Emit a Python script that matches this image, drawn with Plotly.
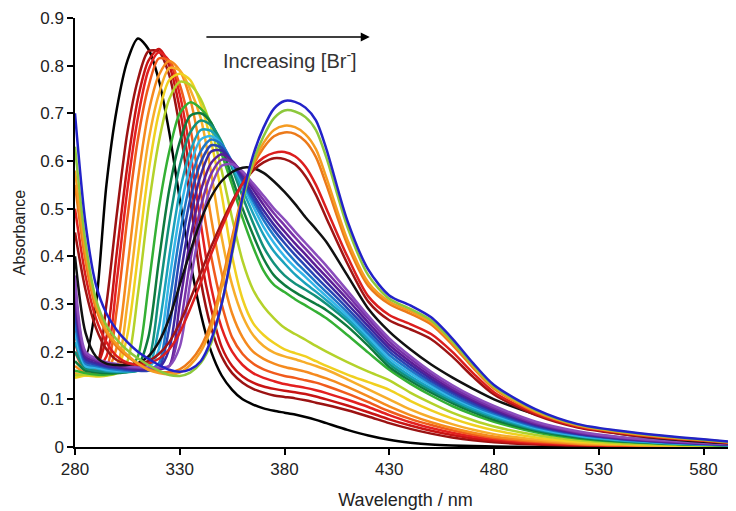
import plotly.graph_objects as go

wavelength = [280, 285, 290, 295, 300, 305, 310, 315, 320, 325, 330, 335, 340, 345, 350, 355, 360, 365, 370, 375,
              380, 385, 390, 395, 400, 410, 420, 430, 440, 450, 460, 470, 480, 500, 520, 540, 560, 580, 595]

s01_black = [0.30, 0.19, 0.30, 0.55, 0.71, 0.81, 0.857, 0.835, 0.77, 0.66, 0.52, 0.39, 0.28, 0.20, 0.15, 0.12, 0.10, 0.089, 0.081, 0.076,
             0.072, 0.068, 0.063, 0.057, 0.05, 0.036, 0.024, 0.015, 0.009, 0.005, 0.003, 0.002, 0.001, 0, 0, 0, 0, 0, 0]
s02_darkred = [0.26, 0.175, 0.17, 0.30, 0.49, 0.66, 0.77, 0.83, 0.83, 0.78, 0.67, 0.52, 0.35, 0.25, 0.19, 0.155, 0.135, 0.122, 0.114, 0.108,
               0.105, 0.102, 0.098, 0.093, 0.088, 0.077, 0.064, 0.05, 0.038, 0.028, 0.02, 0.014, 0.01, 0.005, 0.003, 0.002, 0.001, 0.001, 0]
s03_red = [0.24, 0.17, 0.17, 0.23, 0.41, 0.59, 0.73, 0.81, 0.835, 0.80, 0.71, 0.57, 0.40, 0.29, 0.21, 0.17, 0.148, 0.135, 0.127, 0.122,
           0.118, 0.115, 0.111, 0.106, 0.10, 0.087, 0.073, 0.058, 0.045, 0.034, 0.025, 0.018, 0.013, 0.007, 0.004, 0.003, 0.002, 0.001, 0.001]
s04_red = [0.22, 0.165, 0.165, 0.19, 0.35, 0.54, 0.69, 0.79, 0.828, 0.81, 0.74, 0.62, 0.47, 0.335, 0.25, 0.20, 0.172, 0.155, 0.145, 0.138,
           0.132, 0.128, 0.124, 0.119, 0.113, 0.099, 0.084, 0.067, 0.052, 0.04, 0.03, 0.022, 0.016, 0.009, 0.005, 0.003, 0.002, 0.001, 0.001]
s05_orangered = [0.20, 0.16, 0.16, 0.168, 0.29, 0.48, 0.645, 0.755, 0.815, 0.81, 0.76, 0.67, 0.535, 0.40, 0.30, 0.23, 0.195, 0.175, 0.163, 0.155,
                 0.149, 0.145, 0.14, 0.135, 0.128, 0.112, 0.094, 0.075, 0.059, 0.046, 0.035, 0.026, 0.019, 0.011, 0.006, 0.004, 0.002, 0.001, 0.001]
s06_orange = [0.17, 0.155, 0.155, 0.16, 0.21, 0.375, 0.56, 0.70, 0.78, 0.81, 0.79, 0.73, 0.62, 0.48, 0.365, 0.28, 0.23, 0.20, 0.185, 0.175,
              0.168, 0.163, 0.158, 0.151, 0.144, 0.126, 0.106, 0.085, 0.067, 0.052, 0.04, 0.03, 0.022, 0.013, 0.007, 0.004, 0.003, 0.002, 0.001]
s07_ltorange = [0.155, 0.15, 0.15, 0.155, 0.17, 0.30, 0.48, 0.64, 0.74, 0.795, 0.79, 0.75, 0.69, 0.575, 0.44, 0.34, 0.275, 0.235, 0.212, 0.198,
                0.19, 0.184, 0.177, 0.17, 0.162, 0.142, 0.121, 0.10, 0.079, 0.062, 0.048, 0.036, 0.027, 0.016, 0.009, 0.005, 0.003, 0.002, 0.001]
s08_yellow = [0.145, 0.15, 0.148, 0.15, 0.16, 0.235, 0.40, 0.575, 0.70, 0.77, 0.783, 0.77, 0.72, 0.64, 0.53, 0.40, 0.31, 0.26, 0.235, 0.218,
              0.205, 0.197, 0.19, 0.18, 0.17, 0.152, 0.136, 0.12, 0.097, 0.077, 0.06, 0.046, 0.035, 0.02, 0.011, 0.007, 0.004, 0.002, 0.002]
s09_yellowgreen = [0.15, 0.152, 0.15, 0.15, 0.155, 0.18, 0.32, 0.50, 0.64, 0.73, 0.766, 0.76, 0.73, 0.67, 0.58, 0.48, 0.39, 0.33, 0.295, 0.27,
                   0.25, 0.237, 0.225, 0.212, 0.20, 0.178, 0.158, 0.14, 0.114, 0.092, 0.072, 0.056, 0.043, 0.025, 0.014, 0.008, 0.005, 0.003, 0.002]
s10_green = [0.16, 0.155, 0.152, 0.152, 0.155, 0.16, 0.19, 0.335, 0.50, 0.62, 0.70, 0.723, 0.71, 0.68, 0.615, 0.55, 0.48, 0.42, 0.37, 0.34,
             0.325, 0.31, 0.297, 0.284, 0.27, 0.235, 0.198, 0.162, 0.133, 0.108, 0.086, 0.068, 0.053, 0.031, 0.018, 0.011, 0.007, 0.004, 0.003]
s11_darkgreen = [0.18, 0.16, 0.157, 0.155, 0.155, 0.158, 0.17, 0.23, 0.39, 0.54, 0.64, 0.695, 0.70, 0.68, 0.63, 0.565, 0.50, 0.445, 0.395, 0.36,
                 0.34, 0.325, 0.312, 0.30, 0.287, 0.253, 0.212, 0.168, 0.139, 0.114, 0.092, 0.073, 0.057, 0.034, 0.02, 0.012, 0.008, 0.005, 0.003]
s12_teal = [0.20, 0.165, 0.16, 0.158, 0.157, 0.157, 0.16, 0.18, 0.315, 0.47, 0.59, 0.66, 0.685, 0.675, 0.64, 0.585, 0.525, 0.47, 0.42, 0.385,
            0.36, 0.343, 0.33, 0.316, 0.30, 0.264, 0.22, 0.174, 0.144, 0.119, 0.096, 0.077, 0.061, 0.036, 0.022, 0.013, 0.008, 0.005, 0.003]
s13_cyan = [0.22, 0.17, 0.165, 0.16, 0.158, 0.158, 0.16, 0.165, 0.25, 0.40, 0.535, 0.62, 0.665, 0.663, 0.635, 0.59, 0.54, 0.49, 0.445, 0.41,
            0.385, 0.362, 0.343, 0.326, 0.308, 0.27, 0.226, 0.18, 0.149, 0.123, 0.10, 0.08, 0.064, 0.038, 0.023, 0.014, 0.009, 0.005, 0.003]
s14_lightblue = [0.24, 0.17, 0.167, 0.162, 0.16, 0.16, 0.16, 0.165, 0.205, 0.35, 0.49, 0.59, 0.645, 0.652, 0.635, 0.595, 0.55, 0.505, 0.462, 0.428,
                 0.40, 0.377, 0.357, 0.336, 0.316, 0.276, 0.232, 0.186, 0.155, 0.128, 0.104, 0.084, 0.067, 0.04, 0.024, 0.015, 0.009, 0.006, 0.004]
s15_blue = [0.26, 0.175, 0.17, 0.165, 0.162, 0.16, 0.16, 0.162, 0.175, 0.30, 0.445, 0.555, 0.62, 0.645, 0.635, 0.598, 0.556, 0.515, 0.476, 0.443,
            0.415, 0.39, 0.368, 0.346, 0.325, 0.283, 0.238, 0.193, 0.161, 0.133, 0.108, 0.087, 0.07, 0.042, 0.026, 0.016, 0.01, 0.006, 0.004]
s16_royal = [0.28, 0.18, 0.173, 0.168, 0.165, 0.162, 0.16, 0.16, 0.165, 0.25, 0.40, 0.52, 0.597, 0.633, 0.628, 0.597, 0.56, 0.522, 0.486, 0.455,
             0.428, 0.403, 0.38, 0.357, 0.335, 0.291, 0.245, 0.20, 0.167, 0.138, 0.113, 0.091, 0.073, 0.044, 0.027, 0.017, 0.011, 0.007, 0.004]
s17_indigo = [0.30, 0.185, 0.176, 0.17, 0.167, 0.164, 0.162, 0.162, 0.165, 0.206, 0.35, 0.48, 0.57, 0.62, 0.622, 0.598, 0.565, 0.53, 0.496, 0.466,
              0.44, 0.415, 0.392, 0.369, 0.346, 0.30, 0.253, 0.207, 0.173, 0.143, 0.117, 0.095, 0.076, 0.046, 0.028, 0.018, 0.011, 0.007, 0.005]
s18_purple = [0.32, 0.19, 0.18, 0.173, 0.17, 0.166, 0.164, 0.163, 0.163, 0.17, 0.30, 0.436, 0.537, 0.596, 0.614, 0.60, 0.572, 0.54, 0.508, 0.478,
              0.452, 0.427, 0.404, 0.38, 0.357, 0.31, 0.261, 0.214, 0.179, 0.148, 0.121, 0.098, 0.079, 0.048, 0.03, 0.019, 0.012, 0.008, 0.005]
s19_purple = [0.34, 0.195, 0.183, 0.176, 0.172, 0.168, 0.166, 0.165, 0.165, 0.17, 0.25, 0.39, 0.503, 0.573, 0.603, 0.597, 0.575, 0.547, 0.518, 0.49,
              0.465, 0.44, 0.416, 0.392, 0.368, 0.319, 0.269, 0.221, 0.185, 0.153, 0.125, 0.102, 0.082, 0.05, 0.031, 0.02, 0.013, 0.008, 0.005]
s20_violet = [0.36, 0.20, 0.186, 0.178, 0.174, 0.17, 0.168, 0.167, 0.167, 0.17, 0.21, 0.345, 0.467, 0.547, 0.59, 0.593, 0.578, 0.553, 0.527, 0.50,
              0.477, 0.452, 0.428, 0.404, 0.38, 0.328, 0.275, 0.228, 0.191, 0.158, 0.13, 0.106, 0.086, 0.053, 0.033, 0.021, 0.014, 0.009, 0.006]
s21_black = [0.40, 0.24, 0.19, 0.175, 0.172, 0.172, 0.176, 0.19, 0.22, 0.27, 0.34, 0.41, 0.475, 0.525, 0.558, 0.577, 0.586, 0.585, 0.575, 0.557,
             0.535, 0.51, 0.482, 0.457, 0.43, 0.36, 0.29, 0.242, 0.205, 0.173, 0.146, 0.122, 0.10, 0.068, 0.044, 0.028, 0.018, 0.011, 0.007]
s22_darkred = [0.45, 0.33, 0.25, 0.205, 0.182, 0.175, 0.175, 0.18, 0.195, 0.22, 0.26, 0.31, 0.365, 0.42, 0.47, 0.515, 0.553, 0.58, 0.597, 0.606,
               0.604, 0.593, 0.568, 0.529, 0.48, 0.385, 0.305, 0.266, 0.247, 0.226, 0.19, 0.147, 0.11, 0.067, 0.041, 0.028, 0.019, 0.013, 0.008]
s23_red = [0.50, 0.36, 0.27, 0.22, 0.19, 0.177, 0.172, 0.175, 0.185, 0.205, 0.24, 0.29, 0.345, 0.405, 0.46, 0.51, 0.553, 0.587, 0.607, 0.617,
           0.619, 0.61, 0.588, 0.55, 0.50, 0.40, 0.316, 0.277, 0.258, 0.237, 0.20, 0.155, 0.115, 0.07, 0.043, 0.03, 0.02, 0.013, 0.008]
s24_orange = [0.55, 0.39, 0.29, 0.24, 0.21, 0.19, 0.175, 0.163, 0.158, 0.157, 0.163, 0.18, 0.21, 0.262, 0.345, 0.44, 0.53, 0.59, 0.628, 0.652,
              0.66, 0.657, 0.641, 0.608, 0.55, 0.425, 0.338, 0.30, 0.28, 0.257, 0.215, 0.166, 0.122, 0.073, 0.045, 0.031, 0.021, 0.014, 0.009]
s25_orange = [0.58, 0.41, 0.30, 0.245, 0.215, 0.193, 0.175, 0.162, 0.155, 0.152, 0.156, 0.172, 0.20, 0.25, 0.335, 0.43, 0.525, 0.595, 0.638, 0.665,
              0.674, 0.671, 0.656, 0.625, 0.565, 0.435, 0.345, 0.305, 0.285, 0.262, 0.22, 0.17, 0.125, 0.075, 0.046, 0.032, 0.022, 0.015, 0.009]
s26_green = [0.63, 0.43, 0.31, 0.255, 0.225, 0.203, 0.186, 0.172, 0.16, 0.151, 0.149, 0.156, 0.176, 0.218, 0.30, 0.405, 0.515, 0.598, 0.652, 0.69,
             0.706, 0.704, 0.692, 0.665, 0.607, 0.462, 0.36, 0.311, 0.29, 0.266, 0.222, 0.172, 0.127, 0.077, 0.047, 0.033, 0.023, 0.015, 0.009]
s27_blue = [0.70, 0.47, 0.34, 0.28, 0.245, 0.22, 0.20, 0.185, 0.172, 0.162, 0.158, 0.163, 0.18, 0.225, 0.30, 0.41, 0.525, 0.612, 0.67, 0.71,
            0.726, 0.724, 0.712, 0.685, 0.625, 0.475, 0.372, 0.318, 0.297, 0.272, 0.228, 0.176, 0.13, 0.079, 0.048, 0.034, 0.024, 0.016, 0.01]

series = [s01_black, s02_darkred, s03_red, s04_red, s05_orangered, s06_orange, s07_ltorange, s08_yellow,
          s09_yellowgreen, s10_green, s11_darkgreen, s12_teal, s13_cyan, s14_lightblue, s15_blue, s16_royal,
          s17_indigo, s18_purple, s19_purple, s20_violet, s21_black, s22_darkred, s23_red, s24_orange,
          s25_orange, s26_green, s27_blue]

colors = ["#000000", "#9b1212", "#c81414", "#e32020", "#f05a1c", "#f58a1e", "#f7ad2a", "#f0d020",
          "#b4d22a", "#34b034", "#0e7a3e", "#12907a", "#1aa2bc", "#34b6e8", "#1e78c8", "#2846b4",
          "#3c28a0", "#5a1e96", "#7832a8", "#8a4cbc", "#111111", "#9e1414", "#dc1e1e", "#ec7a1a",
          "#f59c22", "#8cc83c", "#2222c8"]

x_ticks = [280, 330, 380, 430, 480, 530, 580]
y_ticks = [0, 0.1, 0.2, 0.3, 0.4, 0.5, 0.6, 0.7, 0.8, 0.9]
y_labels = ["0", "0.1", "0.2", "0.3", "0.4", "0.5", "0.6", "0.7", "0.8", "0.9"]

fig = go.Figure()
for ys, c in zip(series, colors):
    fig.add_trace(go.Scatter(x=wavelength, y=ys, mode="lines",
                             line=dict(color=c, width=2.5, shape="spline", smoothing=0.8),
                             hoverinfo="skip", showlegend=False))

font_family = "Liberation Sans, Arial, sans-serif"
fig.update_layout(
    width=728, height=503,
    margin=dict(l=67, r=0, t=10, b=64),
    paper_bgcolor="white", plot_bgcolor="white",
    font=dict(family=font_family, size=17, color="#222222"),
    xaxis=dict(range=[280, 595.5], tickvals=x_ticks, showgrid=False, zeroline=False,
               showline=True, linecolor="black", linewidth=1.5, ticks="outside",
               ticklen=6, tickwidth=1.5, tickcolor="black", tickfont=dict(size=17),
               title=dict(text="Wavelength / nm", standoff=15, font=dict(size=18))),
    yaxis=dict(range=[0, 0.9], tickvals=y_ticks, ticktext=y_labels, showgrid=False, zeroline=False,
               showline=True, linecolor="black", linewidth=1.5, ticks="outside",
               ticklen=6, tickwidth=1.5, tickcolor="black", tickfont=dict(size=17),
               title=dict(text="Absorbance", standoff=11, font=dict(size=16))),
)

fig.add_annotation(x=420.7, y=0.86, ax=342, ay=0.86, xref="x", yref="y", axref="x", ayref="y",
                   showarrow=True, arrowhead=2, arrowsize=1.2, arrowwidth=1.5, arrowcolor="black", text="")
fig.add_annotation(x=382.5, y=0.812, xref="x", yref="y", showarrow=False,
                   text="Increasing [Br<sup>-</sup>]", font=dict(size=20, color="#333333"))

fig.write_html("out.html")
